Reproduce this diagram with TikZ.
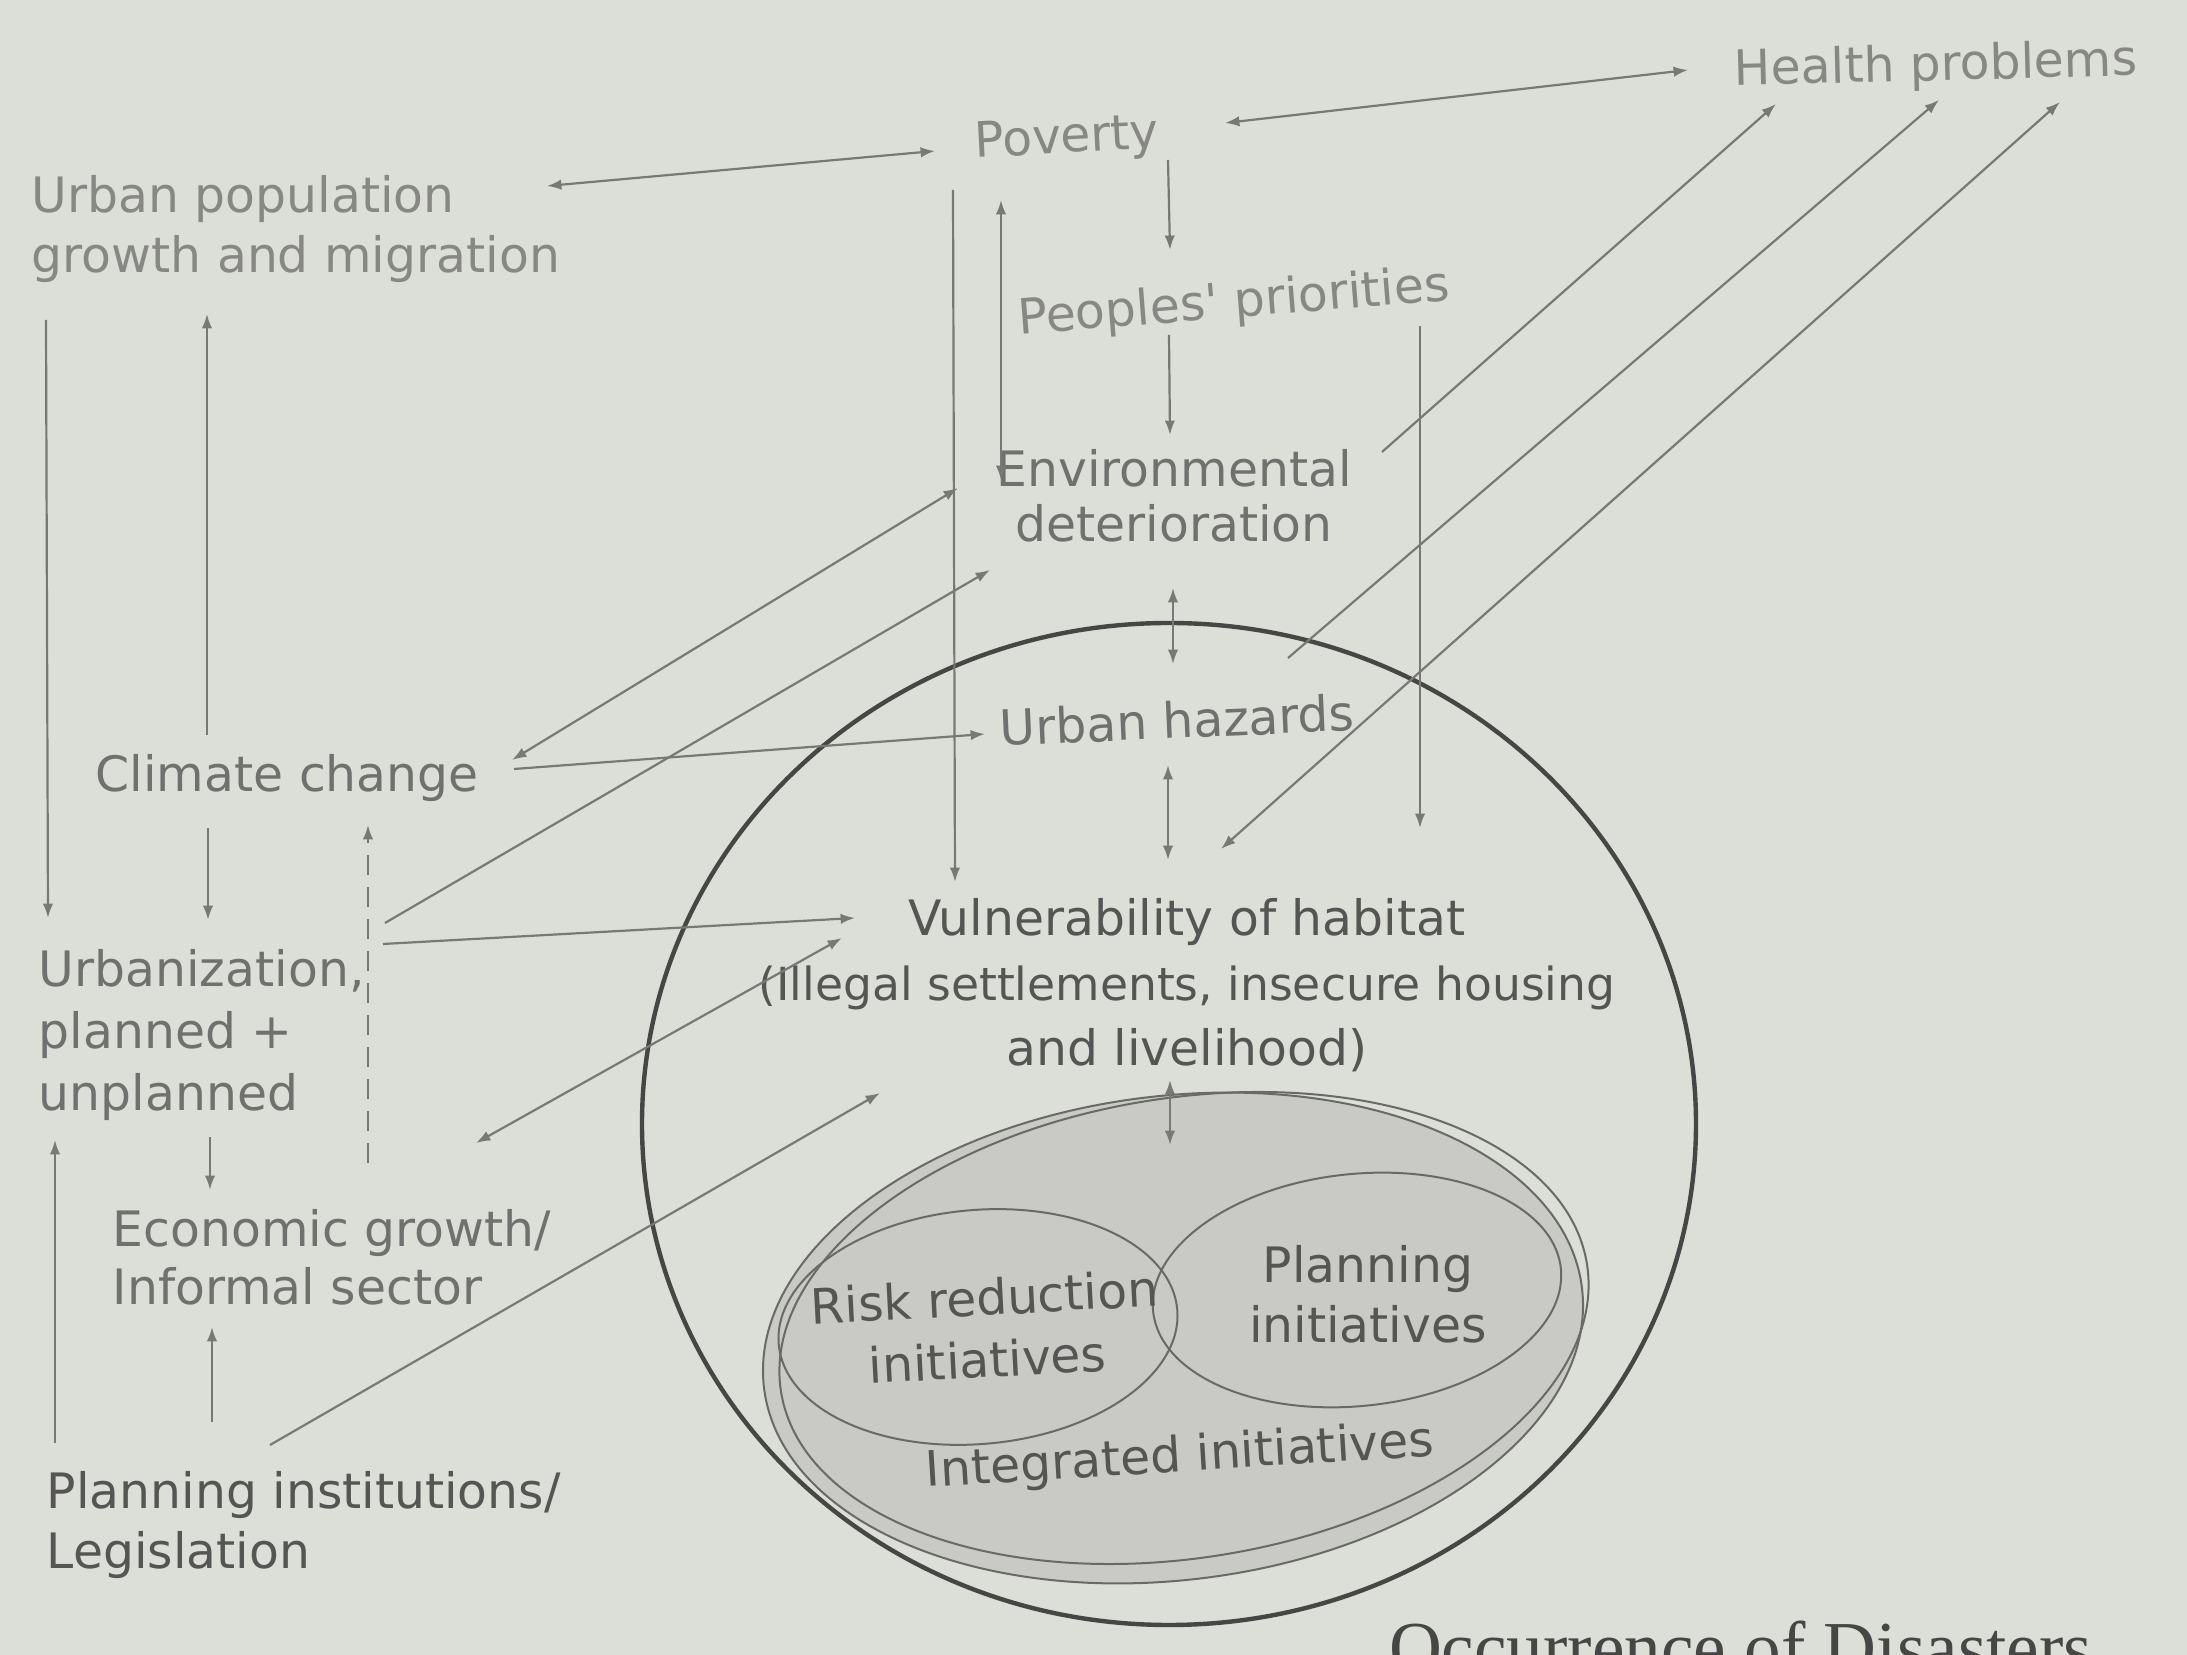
\documentclass[tikz,border=0pt]{standalone}
\usepackage{fontspec}
\newfontfamily\dvfont{DejaVu Sans}
\newfontfamily\capfont{Liberation Serif}
\usetikzlibrary{arrows.meta,shapes.geometric}
\definecolor{bgc}{RGB}{220,222,216}
\definecolor{txtc}{RGB}{112,113,110}
\definecolor{txtl}{RGB}{135,136,132}
\definecolor{txtd}{RGB}{85,86,84}
\definecolor{linec}{RGB}{120,121,117}
\definecolor{circc}{RGB}{70,70,68}
\definecolor{shadec}{RGB}{201,202,197}
\definecolor{ellc}{RGB}{105,106,102}
\tikzset{
  lbl/.style={font=\dvfont\fontsize{12.2}{15}\selectfont, text=txtc, inner sep=0pt},
  lft/.style={lbl, anchor=west, align=left},
  ctr/.style={lbl, align=center},
  conn/.style={draw=linec, line width=0.55pt},
  onetip/.style={conn, -{Latex[length=3.6pt,width=2.6pt]}},
  twotip/.style={conn, {Latex[length=3.6pt,width=2.6pt]}-{Latex[length=3.6pt,width=2.6pt]}},
  dashline/.style={conn, dashed, dash pattern=on 5pt off 3pt, -{Latex[length=3.6pt,width=2.6pt]}},
  ell/.style={ellipse, inner sep=0pt, draw=ellc, line width=0.5pt}
}
\begin{document}
\begin{tikzpicture}[x={(0.25pt,0)}, y={(0,-0.25pt)}]
\fill[bgc] (0,0) rectangle (2187,1655);
\useasboundingbox (0,0) rectangle (2187,1655);

% shapes
\node[ellipse, inner sep=0pt, draw=circc, line width=1.1pt, minimum width=263.5pt, minimum height=250.5pt] (big) at (1169,1124) {};
\node[ell, fill=shadec, minimum width=206pt, minimum height=121pt, rotate=7] (integ) at (1173,1338) {};
\node[ell, minimum width=204pt, minimum height=115pt, rotate=9] (integb) at (1184,1328) {};
\node[ell, minimum width=100pt, minimum height=58.5pt, rotate=5] (rre) at (978,1327) {};
\node[ell, minimum width=102.5pt, minimum height=58pt, rotate=6] (ple) at (1357,1290) {};

% texts
\node[lft, text=txtl] (up) at (31,229) {Urban population\\growth and migration};
\node[ctr, text=txtl, rotate=3] (pov) at (1067,140) {Poverty};
\node[ctr, text=txtl, rotate=1.5] (hp) at (1936,67) {Health problems};
\node[ctr, text=txtl, rotate=4.5] (pp) at (1234,304) {Peoples' priorities};
\node[ctr, font=\dvfont\fontsize{12.2}{13.6}\selectfont] (env) at (1174,496) {Environmental\\deterioration};
\node[ctr, rotate=2.5] (hz) at (1177,720) {Urban hazards};
\node[lft] (cc) at (95,778) {Climate change};
\node[lft, font=\dvfont\fontsize{12.2}{15.5}\selectfont] (urb) at (38,1035) {Urbanization,\\planned +\\unplanned};
\node[lft, font=\dvfont\fontsize{12.2}{14.5}\selectfont] (eco) at (112,1257) {Economic growth/\\Informal sector};
\node[lft, text=txtd] (pi) at (46,1525) {Planning institutions/\\Legislation};
\node[ctr, text=txtd, font=\dvfont\fontsize{12.2}{16.3}\selectfont] (vul) at (1187,985) {Vulnerability of habitat\\{\fontsize{11.4}{16.3}\selectfont(Illegal settlements, insecure housing}\\and livelihood)};
\node[ctr, text=txtd, rotate=3, font=\dvfont\fontsize{12.2}{15.5}\selectfont] (rr) at (986,1328) {Risk reduction\\initiatives};
\node[ctr, text=txtd, font=\dvfont\fontsize{12.2}{15}\selectfont] (pl) at (1368,1294) {Planning\\initiatives};
\node[ctr, text=txtd, rotate=3.5] (ii) at (1180,1458) {Integrated initiatives};
\node[anchor=base east, inner sep=0pt, font=\capfont\fontsize{18.3}{22}\selectfont, text=circc] (cap) at (2093,1673) {Occurrence of Disasters};

% connector end points
\coordinate (upE) at (547,186);   \coordinate (povW) at (935,151);
\coordinate (povE) at (1225,123); \coordinate (hpW) at (1688,70);
\coordinate (povL) at (953,190);  \coordinate (vulTL) at (955,882);
\coordinate (povB) at (1001,200); \coordinate (envTL) at (1001,480);
\coordinate (povBR) at (1168,160); \coordinate (ppT) at (1170,250);
\coordinate (ppB) at (1169,335);  \coordinate (envT) at (1170,435);
\coordinate (ppR) at (1420,326);  \coordinate (vulTR) at (1420,828);
\coordinate (envB) at (1173,588); \coordinate (hzT) at (1173,664);
\coordinate (hzB) at (1168,765);  \coordinate (vulT) at (1168,860);
\coordinate (vulB) at (1170,1080); \coordinate (integT) at (1170,1145);
\coordinate (ccE) at (512,760);   \coordinate (envW) at (958,488);
\coordinate (urbE1) at (385,923); \coordinate (envSW) at (990,570);
\coordinate (ccE2) at (514,769);  \coordinate (hzW) at (985,734);
\coordinate (urbE2) at (383,944); \coordinate (vulW) at (855,918);
\coordinate (vulW2) at (842,938); \coordinate (ecoNE) at (476,1143);
\coordinate (piNE) at (270,1445); \coordinate (vulSW) at (880,1093);
\coordinate (envE) at (1382,452); \coordinate (hpS1) at (1776,104);
\coordinate (hzNE) at (1288,658); \coordinate (hpS2) at (1939,100);
\coordinate (hpS3) at (2060,102); \coordinate (vulNE) at (1221,849);
\coordinate (upS1) at (46,320);   \coordinate (urbN1) at (48,918);
\coordinate (ccN) at (207,735);   \coordinate (upS2) at (207,314);
\coordinate (ccS) at (208,828);   \coordinate (urbN2) at (208,920);
\coordinate (ecoN) at (368,1163); \coordinate (ccSE) at (368,825);
\coordinate (urbS) at (210,1137); \coordinate (ecoT) at (210,1190);
\coordinate (piN) at (212,1422);  \coordinate (ecoS) at (212,1327);
\coordinate (piNW) at (55,1443);  \coordinate (urbS2) at (55,1140);

% connectors
\draw[twotip] (upE) -- (povW);
\draw[twotip] (povE) -- (hpW);
\draw[onetip] (povL) -- (vulTL);
\draw[twotip] (povB) -- (envTL);
\draw[onetip] (povBR) -- (ppT);
\draw[onetip] (ppB) -- (envT);
\draw[onetip] (ppR) -- (vulTR);
\draw[twotip] (envB) -- (hzT);
\draw[twotip] (hzB) -- (vulT);
\draw[twotip] (vulB) -- (integT);
\draw[twotip] (ccE) -- (envW);
\draw[onetip] (urbE1) -- (envSW);
\draw[onetip] (ccE2) -- (hzW);
\draw[onetip] (urbE2) -- (vulW);
\draw[twotip] (vulW2) -- (ecoNE);
\draw[onetip] (piNE) -- (vulSW);
\draw[onetip] (envE) -- (hpS1);
\draw[onetip] (hzNE) -- (hpS2);
\draw[twotip] (hpS3) -- (vulNE);
\draw[onetip] (upS1) -- (urbN1);
\draw[onetip] (ccN) -- (upS2);
\draw[onetip] (ccS) -- (urbN2);
\draw[dashline] (ecoN) -- (ccSE);
\draw[onetip] (urbS) -- (ecoT);
\draw[onetip] (piN) -- (ecoS);
\draw[onetip] (piNW) -- (urbS2);
\end{tikzpicture}
\end{document}
